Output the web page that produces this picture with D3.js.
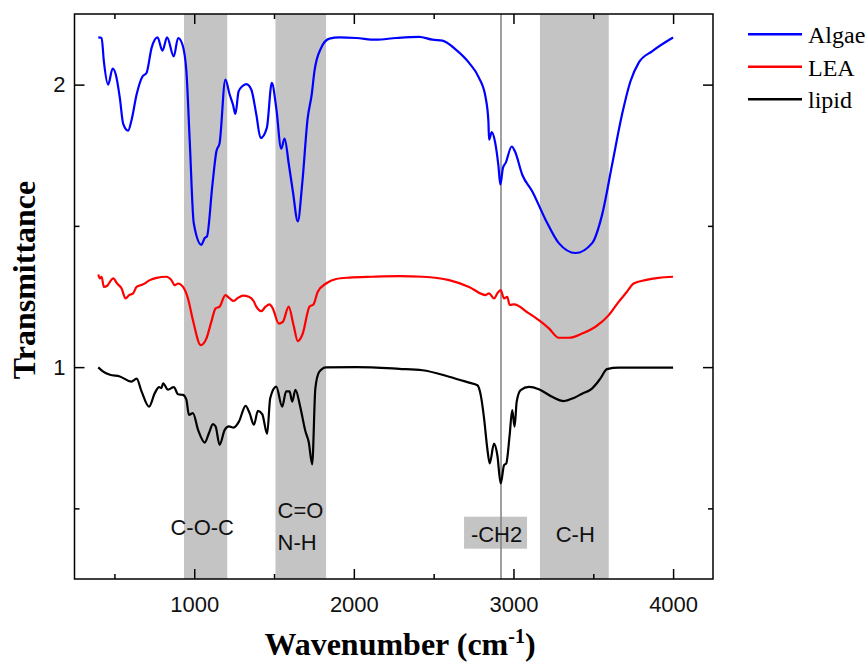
<!DOCTYPE html>
<html>
<head>
<meta charset="utf-8">
<script src="https://cdn.jsdelivr.net/npm/d3@7"></script>
<style>
  body { margin: 0; background: #fff; }
  svg { display: block; }
</style>
</head>
<body>
<svg id="chart" width="867" height="665"></svg>
<script>
// series names and colours (legend order)
const seriesNames = ["Algae", "LEA", "lipid"];
const seriesColors = ["#0000ff", "#ff0000", "#000000"];

// [wavenumber, transmittance]
const algae = [
  [399, 2.167], [420, 2.165], [434, 2.082], [461, 2.000], [489, 2.057], [509, 2.035],
  [534, 1.953], [555, 1.861], [586, 1.837], [608, 1.876], [639, 1.965], [676, 2.029],
  [701, 2.041], [733, 2.130], [770, 2.167], [801, 2.120], [830, 2.167], [872, 2.100],
  [899, 2.165], [926, 2.142], [951, 2.047], [972, 1.799], [997, 1.510], [1045, 1.433],
  [1066, 1.457], [1080, 1.463], [1114, 1.646], [1139, 1.764], [1159, 1.793], [1195, 2.018],
  [1222, 1.965], [1243, 1.929], [1258, 1.896], [1278, 1.976], [1301, 1.994], [1326, 2.002],
  [1358, 1.982], [1389, 1.894], [1416, 1.811], [1455, 1.847], [1486, 2.006], [1514, 1.917],
  [1545, 1.773], [1566, 1.809], [1593, 1.717], [1618, 1.622], [1649, 1.516], [1676, 1.646],
  [1711, 1.882], [1736, 1.965], [1753, 2.047], [1795, 2.130], [1847, 2.163], [1909, 2.167],
  [2014, 2.165], [2139, 2.159], [2264, 2.165], [2409, 2.169], [2493, 2.159], [2555, 2.156],
  [2639, 2.124], [2722, 2.077], [2784, 2.024], [2826, 1.953], [2843, 1.870], [2847, 1.805],
  [2864, 1.832], [2884, 1.799], [2905, 1.717], [2918, 1.646], [2934, 1.705], [2951, 1.723],
  [2989, 1.781], [3009, 1.764], [3055, 1.681], [3118, 1.622], [3201, 1.522], [3284, 1.439],
  [3389, 1.404], [3493, 1.439], [3555, 1.539], [3618, 1.717], [3680, 1.894], [3733, 2.012],
  [3784, 2.077], [3868, 2.118], [4000, 2.167]
];

const lea = [
  [399, 1.328], [409, 1.314], [420, 1.320], [434, 1.284], [455, 1.288], [472, 1.302],
  [492, 1.314], [517, 1.296], [545, 1.278], [570, 1.243], [592, 1.255], [617, 1.261],
  [639, 1.284], [680, 1.293], [722, 1.308], [764, 1.316], [826, 1.320], [857, 1.308],
  [878, 1.290], [899, 1.296], [930, 1.284], [961, 1.243], [992, 1.166], [1041, 1.078],
  [1076, 1.101], [1107, 1.160], [1134, 1.208], [1159, 1.214], [1195, 1.255], [1222, 1.243],
  [1247, 1.234], [1274, 1.245], [1305, 1.253], [1342, 1.249], [1372, 1.234], [1389, 1.214],
  [1420, 1.198], [1447, 1.214], [1472, 1.222], [1492, 1.208], [1530, 1.154], [1555, 1.160],
  [1592, 1.214], [1622, 1.149], [1649, 1.092], [1680, 1.119], [1722, 1.214], [1747, 1.222],
  [1774, 1.267], [1826, 1.296], [1889, 1.312], [1972, 1.317], [2117, 1.320], [2284, 1.322],
  [2430, 1.320], [2597, 1.308], [2722, 1.284], [2826, 1.255], [2847, 1.261], [2878, 1.243],
  [2899, 1.261], [2920, 1.273], [2941, 1.243], [2961, 1.249], [2976, 1.220], [3003, 1.222],
  [3097, 1.190], [3159, 1.166], [3222, 1.137], [3284, 1.104], [3347, 1.104], [3430, 1.119],
  [3514, 1.143], [3597, 1.184], [3659, 1.231], [3711, 1.267], [3753, 1.296], [3826, 1.308],
  [3909, 1.316], [4000, 1.320]
];

const lipid = [
  [399, 0.999], [430, 0.984], [472, 0.973], [534, 0.967], [607, 0.949], [639, 0.959],
  [670, 0.914], [717, 0.860], [753, 0.908], [780, 0.929], [795, 0.926], [805, 0.943],
  [836, 0.920], [872, 0.929], [899, 0.904], [930, 0.902], [951, 0.884], [967, 0.831],
  [992, 0.837], [1024, 0.778], [1066, 0.733], [1092, 0.766], [1117, 0.798], [1134, 0.790],
  [1159, 0.725], [1191, 0.778], [1217, 0.790], [1247, 0.786], [1280, 0.807], [1322, 0.863],
  [1347, 0.837], [1374, 0.796], [1399, 0.845], [1426, 0.834], [1457, 0.764], [1476, 0.890],
  [1514, 0.931], [1551, 0.860], [1576, 0.914], [1597, 0.914], [1614, 0.878], [1634, 0.920],
  [1664, 0.860], [1697, 0.772], [1717, 0.736], [1739, 0.656], [1759, 0.926], [1784, 0.984],
  [1826, 0.999], [2014, 1.000], [2284, 0.994], [2430, 0.989], [2597, 0.966], [2722, 0.945],
  [2774, 0.936], [2795, 0.901], [2816, 0.818], [2836, 0.712], [2851, 0.659], [2878, 0.729],
  [2899, 0.688], [2920, 0.588], [2941, 0.653], [2955, 0.659], [2976, 0.759], [2992, 0.848],
  [3007, 0.789], [3020, 0.877], [3045, 0.919], [3097, 0.930], [3159, 0.922], [3242, 0.895],
  [3316, 0.880], [3378, 0.891], [3430, 0.906], [3492, 0.924], [3545, 0.960], [3586, 0.993],
  [3659, 0.998], [4000, 0.998]
];

// shaded absorption bands and their labels
const bandRanges = [[936, 1207], [1509, 1826], [3166, 3597]];
const markerLine = 2922;
const annotations = [
  { text: "C-O-C", x: 1050, y: 0.406, anchor: "middle" },
  { text: "C=O", x: 1522, y: 0.465, anchor: "start" },
  { text: "N-H", x: 1522, y: 0.354, anchor: "start" },
  { text: "C-H", x: 3387, y: 0.382, anchor: "middle" }
];
const boxedLabel = { text: "-CH2", x: 2894, y: 0.382 };

// ticks
const xTicks = [1000, 2000, 3000, 4000];
const xMinor = [500, 1500, 2500, 3500];
const yTicks = [1, 2];
const yMinor = [0.5, 1.5];

const svg = d3.select("#chart");
const sans = "'Liberation Sans', Arial, sans-serif";
const serif = "'Liberation Serif', 'Times New Roman', serif";

const plotL = 74.5, plotR = 713, plotT = 14, plotB = 579;
const x = d3.scaleLinear().domain([250, 4250]).range([plotL, plotR]);
const y = d3.scaleLinear().domain([0.25, 2.25]).range([plotB, plotT]);

// bands
svg.append("g").selectAll("rect")
  .data(bandRanges)
  .join("rect")
  .attr("x", d => x(d[0]))
  .attr("width", d => x(d[1]) - x(d[0]))
  .attr("y", plotT)
  .attr("height", plotB - plotT)
  .attr("fill", "#c4c4c4");

// grey box behind -CH2
svg.append("rect")
  .attr("x", x(boxedLabel.x) - 32.5)
  .attr("y", y(boxedLabel.y) - 25)
  .attr("width", 63)
  .attr("height", 32)
  .attr("fill", "#c4c4c4");

// marker line
svg.append("line")
  .attr("x1", x(markerLine)).attr("x2", x(markerLine))
  .attr("y1", plotT).attr("y2", plotB)
  .attr("stroke", "#808080")
  .attr("stroke-width", 1.5);

// band labels
svg.append("g").selectAll("text")
  .data(annotations)
  .join("text")
  .attr("x", d => x(d.x))
  .attr("y", d => y(d.y))
  .attr("text-anchor", d => d.anchor)
  .style("font", `22px ${sans}`)
  .attr("fill", "#111")
  .text(d => d.text);

svg.append("text")
  .attr("x", x(boxedLabel.x))
  .attr("y", y(boxedLabel.y))
  .attr("text-anchor", "middle")
  .style("font", `22px ${sans}`)
  .attr("fill", "#111")
  .text(boxedLabel.text);

// curves
const line = d3.line()
  .x(d => x(d[0]))
  .y(d => y(d[1]))
  .curve(d3.curveMonotoneX);

[algae, lea, lipid].forEach((s, i) => {
  svg.append("path")
    .datum(s)
    .attr("fill", "none")
    .attr("stroke", seriesColors[i])
    .attr("stroke-width", 2.2)
    .attr("stroke-linejoin", "round")
    .attr("d", line);
});

// axes: ticks point inward on all four sides
function styleAxis(g) {
  g.select(".domain").remove();
  g.selectAll("line").attr("stroke", "#000").attr("stroke-width", 1.5);
  g.selectAll("text").style("font", `22px ${sans}`).attr("fill", "#111");
}

svg.append("g").attr("transform", `translate(0,${plotB})`)
  .call(d3.axisBottom(x).tickValues(xTicks).tickSize(-10).tickPadding(17).tickFormat(d3.format("d")))
  .call(styleAxis);
svg.append("g").attr("transform", `translate(0,${plotB})`)
  .call(d3.axisBottom(x).tickValues(xMinor).tickSize(-5).tickFormat(""))
  .call(styleAxis);
svg.append("g").attr("transform", `translate(0,${plotT})`)
  .call(d3.axisTop(x).tickValues(xTicks).tickSize(-10).tickFormat(""))
  .call(styleAxis);
svg.append("g").attr("transform", `translate(0,${plotT})`)
  .call(d3.axisTop(x).tickValues(xMinor).tickSize(-5).tickFormat(""))
  .call(styleAxis);

svg.append("g").attr("transform", `translate(${plotL},0)`)
  .call(d3.axisLeft(y).tickValues(yTicks).tickSize(-10).tickPadding(9).tickFormat(d3.format("d")))
  .call(styleAxis);
svg.append("g").attr("transform", `translate(${plotL},0)`)
  .call(d3.axisLeft(y).tickValues(yMinor).tickSize(-5).tickFormat(""))
  .call(styleAxis);
svg.append("g").attr("transform", `translate(${plotR},0)`)
  .call(d3.axisRight(y).tickValues(yTicks).tickSize(-10).tickFormat(""))
  .call(styleAxis);
svg.append("g").attr("transform", `translate(${plotR},0)`)
  .call(d3.axisRight(y).tickValues(yMinor).tickSize(-5).tickFormat(""))
  .call(styleAxis);

// frame
svg.append("rect")
  .attr("x", plotL).attr("y", plotT)
  .attr("width", plotR - plotL).attr("height", plotB - plotT)
  .attr("fill", "none")
  .attr("stroke", "#000")
  .attr("stroke-width", 1.5);

// axis titles
svg.append("text")
  .attr("transform", "translate(35,280) rotate(-90)")
  .attr("text-anchor", "middle")
  .style("font", `bold 32px ${serif}`)
  .text("Transmittance");

const xt = svg.append("text")
  .attr("x", 400).attr("y", 655)
  .attr("text-anchor", "middle")
  .style("font", `bold 32px ${serif}`);
xt.append("tspan").text("Wavenumber (cm");
xt.append("tspan").attr("dy", -12).style("font-size", "20px").text("-1");
xt.append("tspan").attr("dy", 12).text(")");

// legend
const legend = svg.append("g").selectAll("g")
  .data(seriesNames)
  .join("g")
  .attr("transform", (d, i) => `translate(748,${34.3 + i * 32.5})`);
legend.append("line")
  .attr("x1", 0).attr("x2", 54)
  .attr("stroke", (d, i) => seriesColors[i])
  .attr("stroke-width", 2.5);
legend.append("text")
  .attr("x", 60).attr("y", 8.7)
  .style("font", `24px ${serif}`)
  .text(d => d);
</script>
</body>
</html>
